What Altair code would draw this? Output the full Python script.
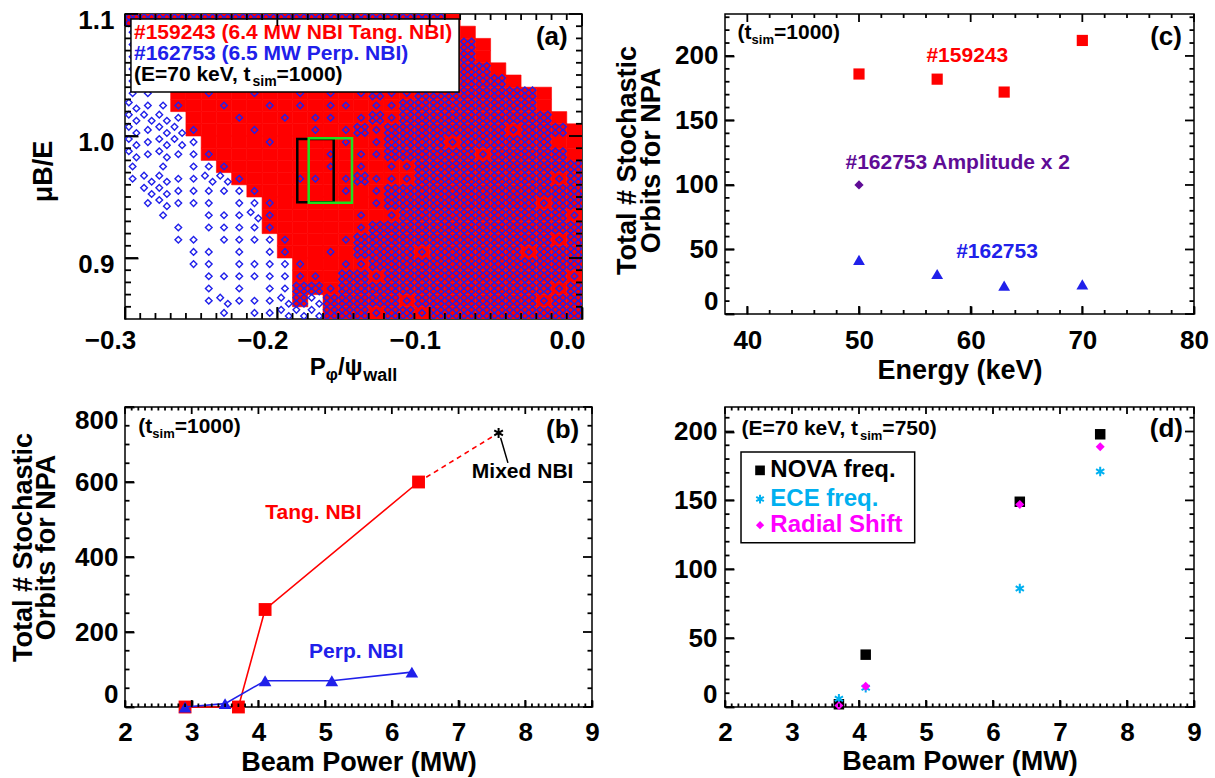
import altair as alt
import pandas as pd

FONT = "Liberation Sans"
RED = "#ff0000"
BLUE = "#2020ea"
PURPLE = "#5f0c96"
CYAN = "#00b0f0"
MAGENTA = "#ff00ff"
GREEN = "#1ee01e"
# six-armed asterisk drawn as a custom symbol path
ASTERISK = "M0,-1L0,1M-0.87,-0.5L0.87,0.5M-0.87,0.5L0.87,-0.5"

# plot-area sizes of the four panels
W_A, H_A = 457, 305
W_C, H_C = 469, 300
W_B, H_B = 467, 300
W_D, H_D = 469, 300

# ---------------- panel (a): orbit map in (P_phi/psi_wall, muB/E) ----------------
PHI_MIN, PHI_STEP = -0.30, 0.01
MU_TOP, MU_STEP = 1.10, 0.01
# one string per mu-row (top to bottom), one char per P_phi column (left to right)
# '.' empty, 'b' a few #162753 orbits, 'B' many #162753 orbits,
# 'r' #159243 orbits, 'p' both (few #162753), 'm' both (many #162753)
orbit_map = [
    "mmmmmmmmmmmmmmmmmmmmmr........",
    "brrrrrrrrrrrrrrrrrrrrrr.......",
    "brrrrrrrrrrrrrrrrrrrrrmr......",
    "brrrrrrrrrrrrrrrrrrrrrmr......",
    "brrrrrrrrrrrrrrrrrrrrrmmr.....",
    "brrrrrrrrrrrrrrrrrrrrrmmmr....",
    "bb.rrprrprrprprpmppmmmmmmmmr...",
    "Bbbprrprrprprpprppmmmmmmmmmr..",
    "BBBbrrrprrprpprpmpmmmmmmmmmmr.",
    "BbBBprrrprrrprpmpmmmmmmmmpmmmr",
    "BbBBbrrrrprrrrprpmmmmpmmmmmmrr",
    "BbBbbprrrrrrrprppmmmmmmpmmmmmr",
    "b.b.bbprrrrrrprprppmmmmmmmmmmm",
    "bBBbbBBprrrpprpmpppmmmmmmmmmpm",
    ".BBbbbbbprrrrrprpmmmmmmmmmmmmm",
    ".bBbbb.bbprrrrrrpmmmmmmmmmmpmm",
    "..b..bbbBprrrrrprpmmmmmmmmmmmp",
    "...b.bbbbprrrrrpmmmmmmmmmmmmmm",
    "...bb.bbbbprrrpmmmmmmmmmmmmmpm",
    "....bb.b.bprrprmmmmpmmmmmmpmmm",
    "....bb.bbbbprrppmmmmmmmmmmmmmm",
    ".....bbbbbbpprmmpmmmmmmmmmmmmp",
    ".....b.b.bbmmpmmmmmmmmmmmmmmpm",
    ".....bBbbbBmBmmmmmpmmmmmmmmpmm",
    "......b.bbBBBmmmpmmpmmmmmmmmmm",
]
# where the #162753 symbols sit inside a cell, in quarter-cell units
SUBPOS = {".": [], "r": [], "b": [(0, 0)], "p": [(0, 0)],
          "B": [(-1, 1), (1, -1)], "m": [(-1, -1), (-1, 1), (1, -1), (1, 1)]}

tang_cells, perp_orbits_a = [], []
for r, row in enumerate(orbit_map):
    for c, code in enumerate(row[:30]):
        x0 = PHI_MIN + c * PHI_STEP
        y1 = MU_TOP - r * MU_STEP
        xc, yc = x0 + PHI_STEP / 2, y1 - MU_STEP / 2
        if code in "rpm":
            tang_cells.append({"x0": x0, "x1": x0 + PHI_STEP, "y0": y1 - MU_STEP, "y1": y1})
        for ox, oy in SUBPOS[code]:
            perp_orbits_a.append({"x": xc + ox * PHI_STEP / 4, "y": yc + oy * MU_STEP / 4})

npa_window_black = {"x0": -0.1869, "x1": -0.163, "y0": 0.9457, "y1": 0.9975}
npa_window_green = {"x0": -0.1794, "x1": -0.151, "y0": 0.9453, "y1": 0.9981}

# ---------------- panel (b): stochastic orbits vs beam power ----------------
tang_power = [2.9, 3.7, 4.1, 6.4]
tang_orbits = [0, 0, 260, 600]
perp_power = [2.9, 3.5, 4.1, 5.1, 6.3]
perp_orbits = [0, 9, 70, 70, 93]
mixed_power = [7.6]
mixed_orbits = [731]

# ---------------- panel (c): stochastic orbits vs energy ----------------
energy_kev = [50, 57, 63, 70]
tang_orbits_c = [186, 182, 172, 212]
perp_orbits_c = [42, 31, 22, 23]
amp2_energy = [50]
amp2_orbits = [100]

# ---------------- panel (d): frequency / radial-shift variants ----------------
power_d = [3.7, 4.1, 6.4, 7.6]
nova_orbits = [2, 38, 149, 198]
ece_orbits = [6, 14, 86, 171]
shift_orbits = [1, 15, 147, 189]

# axis ranges and tick positions
A_X, A_Y = [-0.3, 0.0], [0.85, 1.1]
B_X, B_Y = [2, 9], [0, 800]
C_X, C_Y = [38, 80], [0, 232.5]
D_X, D_Y = [2, 9], [0, 217.8]
a_x_major = [-0.3, -0.2, -0.1, 0.0]
a_x_minor = [round(-0.3 + 0.01 * i, 2) for i in range(1, 30) if i % 10]
a_y_major = [0.9, 1.0, 1.1]
a_y_minor = [round(0.85 + 0.01 * i, 2) for i in range(1, 25) if (i + 5) % 10]
p_major = [2, 3, 4, 5, 6, 7, 8, 9]
p_minor = [round(2 + 0.1 * i, 1) for i in range(1, 70) if i % 10]
b_y_major = [0, 200, 400, 600, 800]
b_y_minor = [v for v in range(50, 800, 50) if v % 200]
c_x_major = [40, 50, 60, 70, 80]
c_x_minor = [v for v in range(42, 80, 2) if v % 10]
c_y_major = [0, 50, 100, 150, 200]
c_y_minor = [v for v in range(10, 240, 10) if v % 50]
d_y_major = [0, 50, 100, 150, 200]
d_y_minor = [v for v in range(10, 220, 10) if v % 50]

# Arial/Liberation Sans Bold advance widths (per 1000 em) to chain sub/superscripts
ADV = {" ": 278, "#": 556, "(": 333, ")": 333, ",": 278, ".": 278, "/": 278, "=": 584,
       "φ": 720, "ψ": 780, "μ": 611}
ADV.update({d: 556 for d in "0123456789"})
ADV.update(dict(zip("ABCDEFGHIJKLMNOPQRSTUVWXYZ",
                    [722, 722, 722, 722, 667, 611, 778, 722, 278, 556, 722, 611, 833,
                     722, 778, 667, 778, 722, 667, 611, 722, 667, 944, 667, 667, 611])))
ADV.update(dict(zip("abcdefghijklmnopqrstuvwxyz",
                    [556, 611, 556, 611, 556, 333, 611, 611, 278, 278, 556, 278, 889,
                     611, 611, 611, 611, 389, 556, 333, 611, 556, 778, 556, 556, 500])))


def text_width(s, size):
    return sum(ADV.get(ch, 600) for ch in s) * size / 1000.0


def rich_text(df, enc, pieces, color, baseline="middle"):
    """Left-aligned run of text pieces (text, size, dy) placed one after another."""
    layers, offset = [], 0.0
    for txt, size, dy in pieces:
        layers.append(
            alt.Chart(df).mark_text(text=txt, align="left", baseline=baseline, dx=offset, dy=dy,
                                    font=FONT, fontWeight="bold", fontSize=size, color=color)
            .encode(**enc))
        offset += text_width(txt, size)
    return layers


def at(xenc, yenc, x, y):
    return pd.DataFrame({"x": [x], "y": [y]}), {"x": xenc("x"), "y": yenc("y")}


def label(xenc, yenc, x, y, txt, size, color, align="center"):
    df, enc = at(xenc, yenc, x, y)
    return alt.Chart(df).mark_text(text=txt, align=align, baseline="middle", font=FONT,
                                   fontWeight="bold", fontSize=size, color=color).encode(**enc)


def inward_ticks(xenc, yenc, xdom, ydom, xmaj, xmin, ymaj, ymin, W, H, lx, ly):
    """Tick segments pointing into the plot on all four sides of the frame."""
    rows = []
    xspan, yspan = xdom[1] - xdom[0], ydom[1] - ydom[0]
    for vals, L in ((xmaj, lx[0]), (xmin, lx[1])):
        d = L * yspan / H
        for v in vals:
            rows.append({"x": v, "x2": v, "y": ydom[0], "y2": ydom[0] + d})
            rows.append({"x": v, "x2": v, "y": ydom[1], "y2": ydom[1] - d})
    for vals, L in ((ymaj, ly[0]), (ymin, ly[1])):
        d = L * xspan / W
        for v in vals:
            rows.append({"x": xdom[0], "x2": xdom[0] + d, "y": v, "y2": v})
            rows.append({"x": xdom[1], "x2": xdom[1] - d, "y": v, "y2": v})
    return [alt.Chart(pd.DataFrame(rows)).mark_rule(color="black", strokeWidth=1.8)
            .encode(x=xenc("x"), y=yenc("y"), x2=alt.X2("x2"), y2=alt.Y2("y2"))]


def channel(ch, domain, axis):
    scale = alt.Scale(domain=domain, nice=False, zero=False)
    if ch == "x":
        return lambda f: alt.X(f, type="quantitative", scale=scale, axis=axis)
    return lambda f: alt.Y(f, type="quantitative", scale=scale, axis=axis)


def axis(tick_len, **kw):
    # the axis line is pulled inside the frame by the tick length, so its ticks point inward
    return alt.Axis(domain=False, grid=False, labelOverlap=False, ticks=True, tickSize=tick_len,
                    tickWidth=1.8, tickColor="black", offset=-tick_len, **kw)


Y_TITLE = ["Total # Stochastic", "Orbits for NPA"]

# ======================= panel (a) =======================
xa = channel("x", A_X, axis(12, values=a_x_major, format=".1f", title=None, labelFlush=False,
                           labelPadding=8, labelOffset=-15))
ya = channel("y", A_Y, axis(13, values=a_y_major, format=".1f", title="μB/E", labelPadding=11,
                           labelOffset=6, titleX=-95, titleY=157, titleAngle=270,
                           titleBaseline="middle", titleAlign="center"))

layers_a = [
    alt.Chart(pd.DataFrame(tang_cells)).mark_rect(color=RED, stroke=RED, strokeWidth=0.6, clip=True)
    .encode(x=xa("x0"), x2=alt.X2("x1"), y=ya("y0"), y2=alt.Y2("y1")),
    alt.Chart(pd.DataFrame(perp_orbits_a)).mark_point(shape="diamond", filled=False, size=44,
                                                      strokeWidth=1.4, color=BLUE, opacity=1, clip=True)
    .encode(x=xa("x"), y=ya("y")),
]
for box, col, sw in ((npa_window_black, "black", 2.5), (npa_window_green, GREEN, 2.5)):
    layers_a.append(alt.Chart(pd.DataFrame([box])).mark_rect(fillOpacity=0, stroke=col, strokeWidth=sw)
                    .encode(x=xa("x0"), x2=alt.X2("x1"), y=ya("y0"), y2=alt.Y2("y1")))
layers_a.append(alt.Chart(pd.DataFrame([{"x0": -0.2961, "x1": -0.0807, "y0": 1.0361, "y1": 1.0959}]))
                .mark_rect(fill="white", stroke="black", strokeWidth=1.5)
                .encode(x=xa("x0"), x2=alt.X2("x1"), y=ya("y0"), y2=alt.Y2("y1")))
df, enc = at(xa, ya, -0.2941, 1.0842)
layers_a += rich_text(df, enc, [("#159243 (6.4 MW NBI Tang. NBI)", 21, 0)], RED)
df, enc = at(xa, ya, -0.2941, 1.0670)
layers_a += rich_text(df, enc, [("#162753 (6.5 MW Perp. NBI)", 21, 0)], BLUE)
df, enc = at(xa, ya, -0.2941, 1.0500)
layers_a += rich_text(df, enc, [("(E=70 keV, t", 21, 0), ("sim", 14, 7), ("=1000)", 21, 0)], "black")
layers_a.append(label(xa, ya, -0.0198, 1.0814, "(a)", 26, "black"))
layers_a += inward_ticks(xa, ya, A_X, A_Y, a_x_major, a_x_minor, a_y_major, a_y_minor,
                         W_A, H_A, (12, 6), (13, 6))
# x-axis title with subscripts
title_pieces = [("P", 24, 0), ("φ", 17, 5), ("/ψ", 24, 0), ("wall", 18, 6)]
tw = sum(text_width(t, s) for t, s, _ in title_pieces)
layers_a += rich_text(pd.DataFrame({"k": [0]}), {"x": alt.value(W_A / 2 - tw / 2), "y": alt.value(H_A + 56)},
                      title_pieces, "black", baseline="alphabetic")
panel_a = alt.layer(*layers_a).properties(width=W_A, height=H_A)

# ======================= panel (b) =======================
xb = channel("x", B_X, axis(7, values=p_major, format="d", title="Beam Power (MW)", labelFlush=False,
                           labelPadding=12, titleY=62, titleBaseline="middle"))
yb = channel("y", B_Y, axis(9, values=b_y_major, format="d", title=Y_TITLE, labelFlush=True,
                           labelPadding=7, titleX=-111, titleY=140, titleAngle=270,
                           titleBaseline="middle", titleAlign="center", titleLineHeight=23))
tang_df = pd.DataFrame({"p": tang_power, "n": tang_orbits})
perp_df = pd.DataFrame({"p": perp_power, "n": perp_orbits})
mixed_df = pd.DataFrame({"p": mixed_power, "n": mixed_orbits})
dash_df = pd.DataFrame({"p": [tang_power[-1], mixed_power[0]], "n": [tang_orbits[-1], mixed_orbits[0]]})
layers_b = [
    alt.Chart(tang_df).mark_line(color=RED, strokeWidth=1.6).encode(x=xb("p"), y=yb("n")),
    alt.Chart(dash_df).mark_line(color=RED, strokeWidth=1.6, strokeDash=[5, 4]).encode(x=xb("p"), y=yb("n")),
    alt.Chart(tang_df).mark_point(shape="square", filled=True, size=165, color=RED, opacity=1)
    .encode(x=xb("p"), y=yb("n")),
    alt.Chart(perp_df).mark_line(color=BLUE, strokeWidth=1.6).encode(x=xb("p"), y=yb("n")),
    alt.Chart(perp_df).mark_point(shape="triangle-up", filled=True, size=160, color=BLUE, opacity=1)
    .encode(x=xb("p"), y=yb("n")),
    alt.Chart(mixed_df).mark_point(shape=ASTERISK, filled=False, size=100, strokeWidth=2, color="black",
                                   opacity=1).encode(x=xb("p"), y=yb("n")),
    alt.Chart(pd.DataFrame({"x": [7.63], "y": [718], "x2": [7.74], "y2": [651]}))
    .mark_rule(color="black", strokeWidth=1.5)
    .encode(x=xb("x"), y=yb("y"), x2=alt.X2("x2"), y2=alt.Y2("y2")),
    label(xb, yb, 7.96, 628, "Mixed NBI", 21, "black"),
    label(xb, yb, 4.824, 517, "Tang. NBI", 21, RED),
    label(xb, yb, 5.468, 148, "Perp. NBI", 21, BLUE),
    label(xb, yb, 8.56, 739, "(b)", 26, "black"),
]
df, enc = at(xb, yb, 2.2, 748)
layers_b += rich_text(df, enc, [("(t", 21, 0), ("sim", 13, 7), ("=1000)", 21, 0)], "black")
layers_b += inward_ticks(xb, yb, B_X, B_Y, p_major, p_minor, b_y_major, b_y_minor, W_B, H_B, (7, 3.5), (9, 4.5))
panel_b = alt.layer(*layers_b).properties(width=W_B, height=H_B)

# ======================= panel (c) =======================
xc = channel("x", C_X, axis(8, values=c_x_major, format="d", title="Energy (keV)", labelFlush=False,
                           labelPadding=13, titleY=64, titleBaseline="middle"))
yc = channel("y", C_Y, axis(9, values=c_y_major, format="d", title=Y_TITLE, labelFlush=True,
                           labelPadding=7, titleX=-107, titleY=146, titleAngle=270,
                           titleBaseline="middle", titleAlign="center", titleLineHeight=24))
layers_c = [
    alt.Chart(pd.DataFrame({"e": energy_kev, "n": tang_orbits_c}))
    .mark_point(shape="square", filled=True, size=125, color=RED, opacity=1).encode(x=xc("e"), y=yc("n")),
    alt.Chart(pd.DataFrame({"e": amp2_energy, "n": amp2_orbits}))
    .mark_point(shape="diamond", filled=True, size=85, color=PURPLE, opacity=1).encode(x=xc("e"), y=yc("n")),
    alt.Chart(pd.DataFrame({"e": energy_kev, "n": perp_orbits_c}))
    .mark_point(shape="triangle-up", filled=True, size=140, color=BLUE, opacity=1).encode(x=xc("e"), y=yc("n")),
    label(xc, yc, 59.7, 200, "#159243", 21, RED),
    label(xc, yc, 58.84, 116.8, "#162753 Amplitude x 2", 21, PURPLE),
    label(xc, yc, 62.36, 48.3, "#162753", 21, BLUE),
    label(xc, yc, 77.5, 215, "(c)", 26, "black"),
]
df, enc = at(xc, yc, 39.13, 217.6)
layers_c += rich_text(df, enc, [("(t", 21, 0), ("sim", 13, 7), ("=1000)", 21, 0)], "black")
layers_c += inward_ticks(xc, yc, C_X, C_Y, c_x_major, c_x_minor, c_y_major, c_y_minor, W_C, H_C, (8, 4), (9, 4.5))
panel_c = alt.layer(*layers_c).properties(width=W_C, height=H_C)

# ======================= panel (d) =======================
xd = channel("x", D_X, axis(7, values=p_major, format="d", title="Beam Power (MW)", labelFlush=False,
                           labelPadding=12, titleY=61, titleBaseline="middle"))
yd = channel("y", D_Y, axis(9, values=d_y_major, format="d", title=None, labelFlush=True,
                           labelPadding=8))
series_d = [
    (nova_orbits, "square", True, 110, "black", 1),
    (ece_orbits, ASTERISK, False, 90, CYAN, 2),
    (shift_orbits, "diamond", True, 80, MAGENTA, 1),
]
layers_d = []
for vals, shape, filled, size, col, sw in series_d:
    layers_d.append(alt.Chart(pd.DataFrame({"p": power_d, "n": vals}))
                    .mark_point(shape=shape, filled=filled, size=size, color=col, strokeWidth=sw, opacity=1)
                    .encode(x=xd("p"), y=yd("n")))
layers_d.append(alt.Chart(pd.DataFrame([{"x0": 2.239, "x1": 4.831, "y0": 119.3, "y1": 185.1}]))
                .mark_rect(fill="white", stroke="black", strokeWidth=1.5)
                .encode(x=xd("x0"), x2=alt.X2("x1"), y=yd("y0"), y2=alt.Y2("y1")))
legend_rows = [("NOVA freq.", 171.8), ("ECE freq.", 151.0), ("Radial Shift", 132.0)]
for (txt, yy), (_, shape, filled, size, col, sw) in zip(legend_rows, series_d):
    layers_d.append(alt.Chart(pd.DataFrame({"x": [2.523], "y": [yy]}))
                    .mark_point(shape=shape, filled=filled, size=size * 0.85, color=col, strokeWidth=sw, opacity=1)
                    .encode(x=xd("x"), y=yd("y")))
    layers_d.append(label(xd, yd, 2.677, yy, txt, 24, col, align="left"))
layers_d.append(label(xd, yd, 8.588, 202, "(d)", 26, "black"))
df, enc = at(xd, yd, 2.246, 202)
layers_d += rich_text(df, enc, [("(E=70 keV, t", 21, 0), ("sim", 13, 7), ("=750)", 21, 0)], "black")
layers_d += inward_ticks(xd, yd, D_X, D_Y, p_major, p_minor, d_y_major, d_y_minor, W_D, H_D, (7, 3.5), (9, 4.5))
panel_d = alt.layer(*layers_d).properties(width=W_D, height=H_D)

# ======================= layout: 2x2 grid of plot areas =======================
chart = (
    alt.concat(panel_a, panel_c, panel_b, panel_d, columns=2, bounds="flush",
               spacing={"row": 88, "column": 133})
    .properties(autosize=alt.AutoSizeParams(type="none"),
                padding={"left": 125, "top": 14, "right": 1090, "bottom": 764},
                background="white")
    .configure_view(stroke="black", strokeWidth=1.5)
    .configure_axis(labelFont=FONT, labelFontWeight="bold", labelFontSize=26, labelColor="black",
                    titleFont=FONT, titleFontWeight="bold", titleFontSize=27, titleColor="black")
)

chart.save("out.html", embed_options={"renderer": "svg", "actions": False})
